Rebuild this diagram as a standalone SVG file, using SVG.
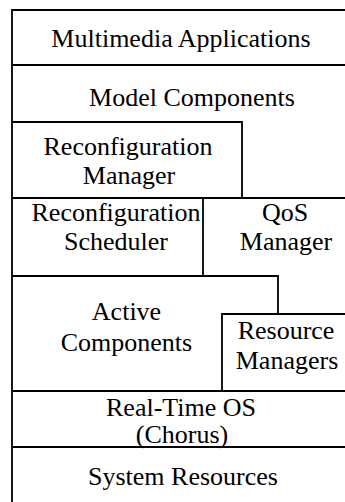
<svg xmlns="http://www.w3.org/2000/svg" width="345" height="502" viewBox="0 0 345 502">
<style>
.ln{fill:none;stroke:#000;stroke-width:1.8;stroke-linecap:square}
.t{font-size:26px;fill:#000;text-anchor:middle}
</style>
<rect width="345" height="502" fill="#fff"/>
<g id="frame">
<path class="ln" d="M12,10 H346 M12,10 V503 M12,65 H346 M12,122 H242 V198 M12,198 H346 M203,198 V276 M12,276 H278 V314 M222,314 H346 M222,314 V391 M12,391 H346 M12,447 H346"/>
</g>
<g class="t" font-family="Liberation Serif, Times New Roman, serif">
<g id="multimedia-applications"><text x="181" y="47">Multimedia Applications</text></g>
<g id="model-components"><text x="192" y="106">Model Components</text></g>
<g id="reconfiguration-manager"><text x="128" y="155">Reconfiguration</text><text x="129" y="184">Manager</text></g>
<g id="reconfiguration-scheduler"><text x="116" y="221">Reconfiguration</text><text x="116" y="250">Scheduler</text></g>
<g id="qos-manager"><text x="285" y="221">QoS</text><text x="286" y="250">Manager</text></g>
<g id="active-components"><text x="126.5" y="320">Active</text><text x="126.5" y="351">Components</text></g>
<g id="resource-managers"><text x="286" y="339">Resource</text><text x="287" y="369">Managers</text></g>
<g id="real-time-os"><text x="181" y="416">Real-Time OS</text><text x="182" y="443">(Chorus)</text></g>
<g id="system-resources"><text x="183" y="485">System Resources</text></g>
</g>
</svg>
